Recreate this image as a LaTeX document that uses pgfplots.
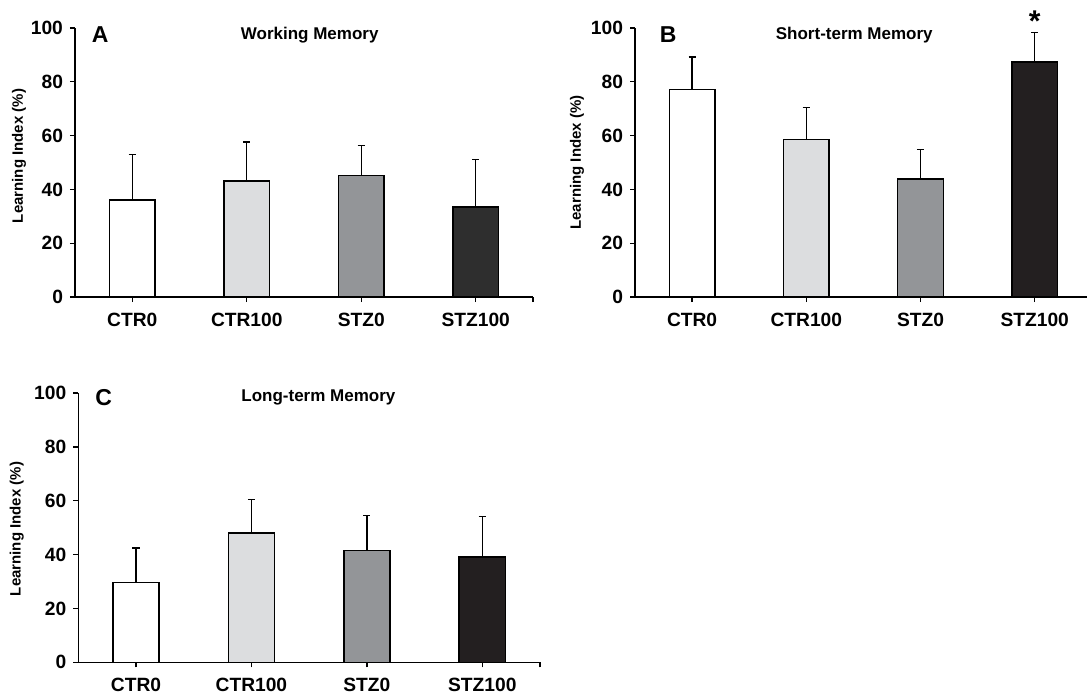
\documentclass[border=0pt]{standalone}
\usepackage{fontspec}
\setmainfont{Liberation Sans}
\usepackage{pgfplots}
\pgfplotsset{compat=1.18}
\definecolor{cWhite}{HTML}{FFFFFF}
\definecolor{cLight}{HTML}{DCDDDF}
\definecolor{cMid}{HTML}{939598}
\definecolor{cDarkA}{HTML}{2E2E2E}
\definecolor{cDark}{HTML}{231F20}
\pgfplotsset{
  panel/.style={
    scale only axis, ybar, bar width=0.4, bar shift=0pt,
    ymin=0, ymax=100, ytick={0,20,40,60,80,100},
    xmin=-0.5,
    xtick={0,1,2,3}, xticklabels={CTR0,CTR100,STZ0,STZ100},
    extra x ticks={3.5}, extra x tick labels={},
    axis x line=bottom, axis y line=left,
    axis line style={-, line width=0.65pt, black},
    tick align=outside, major tick length=2.5pt,
    tick style={line width=0.65pt, black},
    clip=false,
    ticklabel style={font=\fontsize{9.6}{9.6}\selectfont\bfseries},
    xticklabel style={yshift=-2pt},
    /pgf/number format/assume math mode=true,
    ylabel={Learning Index (\%)},
    ylabel style={font=\fontsize{7.5}{7.5}\selectfont\bfseries, anchor=center},
  },
  bb/.style={draw=black, line width=0.75pt,
    error bars/.cd, y dir=plus, y explicit,
    error bar style={line width=0.65pt, black},
    error mark options={rotate=90, line width=0.65pt, black, mark size=1.8pt}},
}
\tikzset{
  ttl/.style={font=\fontsize{8.5}{8.5}\selectfont\bfseries},
  lett/.style={font=\fontsize{11.5}{11.5}\selectfont\bfseries},
}
\begin{document}
\begin{tikzpicture}
\useasboundingbox (0,0) rectangle (544pt,-346.5pt);
% Panel A
\begin{axis}[panel, at={(37.5pt,-148.5pt)}, anchor=south west,
  width=229pt, height=134.5pt, xmax=3.5,
  ylabel style={at={(axis description cs:-0.122,0.524)}}]
\addplot[fill=cWhite, bb] coordinates {(0,36.0) +- (0,16.9)};
\addplot[fill=cLight, bb] coordinates {(1,43.1) +- (0,14.5)};
\addplot[fill=cMid, bb] coordinates {(2,45.2) +- (0,11.1)};
\addplot[fill=cDarkA, bb] coordinates {(3,33.5) +- (0,17.7)};
\node[lett] at (axis cs:-0.28,97.4) {A};
\node[ttl] at (axis cs:1.55,97.4) {Working Memory};
\end{axis}
% Panel B
\begin{axis}[panel, at={(317.5pt,-148.5pt)}, anchor=south west,
  width=226pt, height=134.5pt, xmax=3.458,
  ylabel style={at={(axis description cs:-0.128,0.5)}}]
\addplot[fill=cWhite, bb] coordinates {(0,77.2) +- (0,12.0)};
\addplot[fill=cLight, bb] coordinates {(1,58.5) +- (0,11.9)};
\addplot[fill=cMid, bb] coordinates {(2,43.9) +- (0,10.9)};
\addplot[fill=cDark, bb] coordinates {(3,87.4) +- (0,10.9)};
\node[lett] at (axis cs:-0.21,97.4) {B};
\node[ttl] at (axis cs:1.42,97.4) {Short-term Memory};
\node[font=\fontsize{15}{15}\selectfont\bfseries, inner sep=0pt, anchor=north] at (axis cs:3,106.5) {*};
\end{axis}
% Panel C
\begin{axis}[panel, at={(39.15pt,-331.15pt)}, anchor=south west,
  width=230.85pt, height=134.65pt, xmax=3.5,
  ylabel style={at={(axis description cs:-0.133,0.495)}}]
\addplot[fill=cWhite, bb] coordinates {(0,29.6) +- (0,12.8)};
\addplot[fill=cLight, bb] coordinates {(1,48.0) +- (0,12.5)};
\addplot[fill=cMid, bb] coordinates {(2,41.5) +- (0,12.9)};
\addplot[fill=cDark, bb] coordinates {(3,39.2) +- (0,15.0)};
\node[lett] at (axis cs:-0.28,98.3) {C};
\node[ttl] at (axis cs:1.58,98.3) {Long-term Memory};
\end{axis}
\end{tikzpicture}
\end{document}
